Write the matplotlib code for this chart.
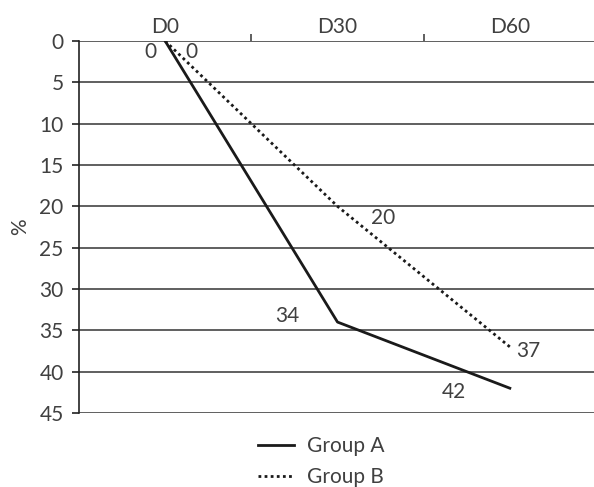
import matplotlib
matplotlib.use('Agg')
import matplotlib.pyplot as plt

days = ['D0', 'D30', 'D60']
group_a = [0, 34, 42]
group_b = [0, 20, 37]
y_ticks = [0, 5, 10, 15, 20, 25, 30, 35, 40, 45]

# label offsets in pixels (dx, dy, ha) for each point
offs_a = [(-9, -11, 'right'), (-38, 6, 'right'), (-44, -4, 'right')]
offs_b = [(20, -11, 'left'), (34, -12, 'left'), (6, -4, 'left')]

plt.rcParams['font.family'] = ['Lato', 'DejaVu Sans']
txt = '#404040'
fs = 15

fig = plt.figure(figsize=(5.94, 4.87), dpi=100)
ax = fig.add_axes([79 / 594, 1 - 413 / 487, (596 - 79) / 594, (413 - 41) / 487])

x = list(range(len(days)))
ax.plot(x, group_a, color='#1a1a1a', lw=2, label='Group A')
ax.plot(x, group_b, color='#1a1a1a', lw=2, ls=(0, (1, 1.2)), label='Group B')

for xs, ys, offs in [(x, group_a, offs_a), (x, group_b, offs_b)]:
    for xi, yi, (dx, dy, ha) in zip(xs, ys, offs):
        ax.annotate(str(yi), (xi, yi), xytext=(dx, dy), textcoords='offset pixels',
                    ha=ha, va='center', fontsize=fs, color=txt)

ax.set_xlim(-0.5, 2.5)
ax.set_ylim(45, 0)
ax.set_yticks(y_ticks)
ax.set_yticklabels([str(v) for v in y_ticks], fontsize=fs, color=txt)
ax.yaxis.grid(True, color='#444444', lw=1.2)
ax.set_axisbelow(True)

ax.xaxis.tick_top()
ax.set_xticks(x)
ax.set_xticklabels(days, fontsize=fs, color=txt)
ax.tick_params(axis='x', length=0, pad=3)
ax.set_xticks([0.5, 1.5], minor=True)
ax.tick_params(axis='x', which='minor', length=5, color='#444444', width=1.2)
ax.tick_params(axis='y', length=5, color='#222222', width=1.2, pad=6)

for s in ['right', 'bottom', 'top']:
    ax.spines[s].set_visible(False)
ax.spines['left'].set_color('#222222')
ax.spines['left'].set_linewidth(1.2)

ax.set_ylabel('%', fontsize=fs, color=txt, labelpad=7)

fig.legend(loc='upper left', bbox_to_anchor=(258 / 594, 1 - 436 / 487), frameon=False,
           fontsize=fs, handlelength=1.75, labelspacing=0.55, handletextpad=0.6,
           labelcolor=txt, borderpad=0, borderaxespad=0)

plt.savefig('out.png', dpi=100)
